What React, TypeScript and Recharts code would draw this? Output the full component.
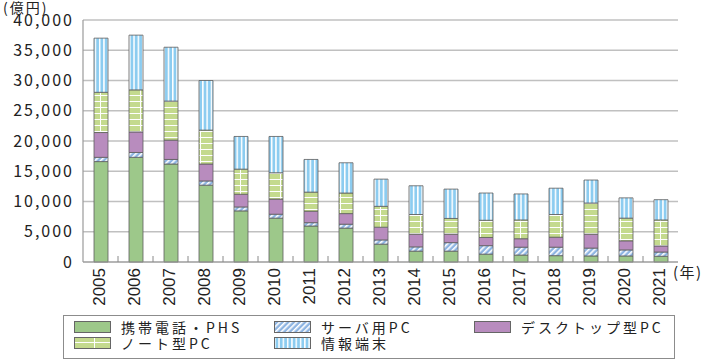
import React from "react";
import { BarChart, Bar, XAxis, YAxis, CartesianGrid, Legend } from "recharts";

// values in 億円
const years = ["2005", "2006", "2007", "2008", "2009", "2010", "2011", "2012", "2013", "2014", "2015", "2016", "2017", "2018", "2019", "2020", "2021"];
const mobile = [16600, 17300, 16200, 12700, 8450, 7250, 5950, 5600, 2950, 1800, 1800, 1300, 1150, 1050, 1000, 1000, 950];
const server = [700, 800, 750, 700, 650, 650, 550, 650, 700, 700, 1400, 1400, 1300, 1400, 1300, 1000, 700];
const desktop = [4100, 3400, 3200, 2800, 2100, 2500, 1900, 1750, 2100, 2100, 1400, 1350, 1400, 1650, 2300, 1500, 1000];
const notebook = [6650, 6950, 6450, 5600, 4150, 4350, 3150, 3400, 3450, 3250, 2600, 2850, 3100, 3750, 5150, 3750, 4300];
const terminal = [8950, 9050, 8900, 8200, 5400, 6000, 5400, 5000, 4500, 4750, 4850, 4500, 4300, 4350, 3800, 3350, 3350];
const yTicks = [0, 5000, 10000, 15000, 20000, 25000, 30000, 35000, 40000];

const series = [
  { key: "mobile", name: "携帯電話・PHS", fill: "#9DC88A" },
  { key: "server", name: "サーバ用PC", fill: "url(#pServer)" },
  { key: "desktop", name: "デスクトップ型PC", fill: "#B88CBE" },
  { key: "notebook", name: "ノート型PC", fill: "url(#pNote)" },
  { key: "terminal", name: "情報端末", fill: "url(#pTerm)" },
];

const data = years.map((year, i) => ({
  year,
  mobile: mobile[i],
  server: server[i],
  desktop: desktop[i],
  notebook: notebook[i],
  terminal: terminal[i],
}));

const W = 705;
const H = 361;
const M = { top: 20, right: 27, left: 0, bottom: 0 };
const Y_W = 83;
const STEP = (W - Y_W - M.right) / years.length;
const JP = "'Noto Sans CJK JP', 'Noto Sans', sans-serif";

const XTick = (props: any) => {
  const { x, y, payload, index } = props;
  const axisY = y - 6;
  return (
    <g>
      {index > 0 && (
        <line x1={x - STEP / 2} x2={x - STEP / 2} y1={axisY - 6} y2={axisY} stroke="#8a8a8a" strokeWidth={1} />
      )}
      <text
        x={x - 1}
        y={y}
        transform={`rotate(-90, ${x - 1}, ${y})`}
        textAnchor="end"
        dominantBaseline="central"
        fill="#222"
        fontSize={17}
        fontFamily="'Liberation Sans Narrow', 'Liberation Sans', sans-serif"
      >
        {payload.value}
      </text>
    </g>
  );
};

const renderLegend = () => (
  <div
    style={{
      position: "relative",
      width: 612,
      height: 44,
      border: "1px solid #8c8c8c",
      boxSizing: "border-box",
      background: "#fff",
      fontFamily: JP,
      fontSize: 14,
      color: "#222",
    }}
  >
    {series.map((s, i) => {
      const col = i % 3;
      const row = Math.floor(i / 3);
      return (
        <div
          key={s.key}
          style={{
            position: "absolute",
            left: 10 + col * 200,
            top: 4 + row * 16,
            height: 14,
            display: "flex",
            alignItems: "center",
            whiteSpace: "nowrap",
          }}
        >
          <svg width={37} height={12} style={{ marginRight: 10 }}>
            <rect x={0.5} y={0.5} width={36} height={11} fill={s.fill} stroke="#666" strokeWidth={1} />
          </svg>
          <span style={{ letterSpacing: 3, lineHeight: "14px" }}>{s.name}</span>
        </div>
      );
    })}
  </div>
);

export default function App() {
  return (
    <div style={{ position: "absolute", left: 0, top: 0, width: W, height: H, background: "#fff" }}>
      <BarChart width={W} height={H} data={data} margin={M} barSize={14}>
        <defs>
          <pattern id="pServer" width={4} height={4} patternUnits="userSpaceOnUse" patternTransform="rotate(45)">
            <rect width={4} height={4} fill="#8DB4E2" />
            <rect width={1.6} height={4} fill="#ffffff" />
          </pattern>
          <pattern id="pNote" width={20} height={6} patternUnits="userSpaceOnUse">
            <rect width={20} height={6} fill="#C4DA8E" />
            <rect y={5} width={20} height={1} fill="#ffffff" />
            <rect x={0} width={1} height={6} fill="#ffffff" />
          </pattern>
          <pattern id="pTerm" width={4.3} height={4} patternUnits="userSpaceOnUse">
            <rect width={4.3} height={4} fill="#8CCCF0" />
            <rect width={1.5} height={4} fill="#ffffff" />
          </pattern>
        </defs>
        <CartesianGrid vertical={false} stroke="#c0c0c0" strokeWidth={1.4} />
        <XAxis
          dataKey="year"
          interval={0}
          height={H - 262}
          axisLine={{ stroke: "#9a9a9a", strokeWidth: 1.2 }}
          tickLine={false}
          tickSize={0}
          tickMargin={6}
          tick={<XTick />}
          label={{
            content: (p: any) => (
              <text
                x={p.viewBox.x + p.viewBox.width - 5}
                y={p.viewBox.y + 16}
                fontSize={15}
                fontFamily={JP}
                letterSpacing={1.5}
                fill="#222"
              >
                (年)
              </text>
            ),
          }}
        />
        <YAxis
          width={Y_W}
          domain={[0, 40000]}
          ticks={yTicks}
          interval={0}
          axisLine={{ stroke: "#9a9a9a", strokeWidth: 1.2 }}
          tickLine={false}
          tickSize={0}
          tickMargin={9}
          tickFormatter={(v: number) => v.toLocaleString("en-US")}
          tick={{ fill: "#222", fontSize: 16, fontFamily: JP, letterSpacing: 2 }}
          label={{
            content: (p: any) => (
              <text x={3} y={p.viewBox.y - 7} fontSize={14} fontFamily={JP} letterSpacing={2} fill="#222">
                (億円)
              </text>
            ),
          }}
        />
        {series.map((s) => (
          <Bar
            key={s.key}
            dataKey={s.key}
            name={s.name}
            stackId="a"
            fill={s.fill}
            stroke="#5e5e5e"
            strokeWidth={0.8}
            isAnimationActive={false}
          />
        ))}
        <Legend
          verticalAlign="middle"
          align="center"
          content={renderLegend}
          wrapperStyle={{ left: 63, top: 315, width: 612, height: 44 }}
        />
      </BarChart>
    </div>
  );
}
